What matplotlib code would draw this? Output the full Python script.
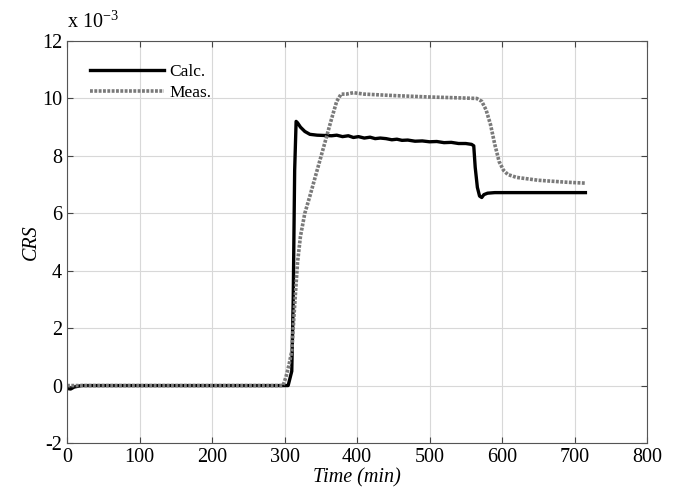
import matplotlib
matplotlib.use("Agg")
import matplotlib.pyplot as plt
import numpy as np

plt.rcParams["font.family"] = ["Liberation Serif", "DejaVu Serif"]
plt.rcParams["mathtext.fontset"] = "custom"
plt.rcParams["mathtext.rm"] = "Liberation Serif"
plt.rcParams["axes.unicode_minus"] = False

# calculated CRS (x 1e-3)
t_calc = [0, 5, 10, 20, 40, 100, 200, 300, 305, 310, 312, 314, 316, 318, 322, 328, 335, 345, 355,
          365, 372, 380, 388, 395, 402, 410, 418, 425, 432, 440, 448, 455, 462, 470, 480, 490,
          500, 510, 520, 530, 540, 550, 558, 561, 563, 566, 569, 572, 575, 580, 590, 620, 680, 715]
crs_calc = [-0.1, -0.12, -0.05, 0.0, 0.0, 0.0, 0.0, 0.0, 0.0, 0.5, 3.0, 7.5, 9.2, 9.15, 9.0, 8.85, 8.75, 8.72, 8.71,
            8.7, 8.72, 8.67, 8.7, 8.64, 8.67, 8.62, 8.65, 8.6, 8.62, 8.6, 8.56, 8.58, 8.54, 8.55, 8.51, 8.52,
            8.49, 8.5, 8.46, 8.47, 8.43, 8.43, 8.4, 8.35, 7.6, 6.9, 6.6, 6.55, 6.65, 6.7, 6.72, 6.72, 6.72, 6.72]

# measured CRS (x 1e-3)
t_meas = [0, 50, 100, 200, 298, 302, 306, 310, 314, 318, 322, 328, 335, 345, 355, 365, 372, 378, 385,
          395, 410, 450, 500, 540, 565, 572, 578, 584, 590, 596, 602, 608, 620, 650, 690, 715]
crs_meas = [0.0, 0.0, 0.0, 0.0, 0.0, 0.3, 0.7, 1.2, 2.8, 4.3, 5.2, 6.0, 6.6, 7.5, 8.4, 9.3, 9.9, 10.15, 10.15,
            10.2, 10.15, 10.1, 10.05, 10.02, 10.0, 9.9, 9.6, 9.1, 8.4, 7.8, 7.5, 7.35, 7.25, 7.15, 7.08, 7.05]

fig = plt.figure(figsize=(6.74, 5.0), dpi=100)
ax = fig.add_axes([0.0994, 0.114, 0.8606, 0.804])

ax.plot(t_calc, crs_calc, color="black", lw=2.4, label="Calc.")
ax.plot(t_meas, crs_meas, color="#7a7a7a", lw=2.6, ls=(0, (0.8, 0.4)), label="Meas.")

ax.set_xlim(0, 800)
ax.set_ylim(-2, 12)
ax.set_xticks(np.arange(0, 801, 100))
ax.set_yticks(np.arange(-2, 13, 2))
ax.grid(True, color="#d8d8d8", lw=0.8)
ax.tick_params(direction="in", top=True, right=True, labelsize=14.5, length=4, color="#444444")
for s in ax.spines.values():
    s.set_color("#555555")

ax.set_xlabel("Time (min)", fontsize=14.5, style="italic", labelpad=1)
ax.set_ylabel("CRS", fontsize=14.5, style="italic")
ax.yaxis.set_label_coords(-0.045, 0.5)
fig.text(0.1, 0.945, r"x 10$^{-3}$", fontsize=14.5)

ax.legend(loc="upper left", frameon=False, fontsize=12.5, handlelength=4.3, handletextpad=0.3,
          labelspacing=0.3, borderaxespad=0.7, borderpad=0.6)

fig.savefig("out.png", dpi=100)
